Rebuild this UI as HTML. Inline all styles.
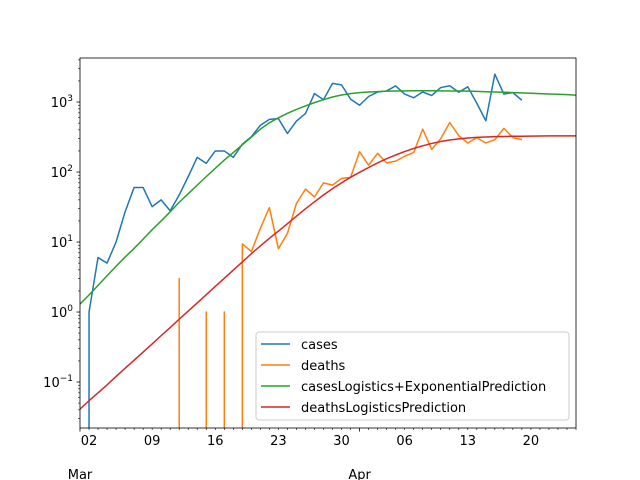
<!DOCTYPE html>
<html><head><meta charset="utf-8"><style>
body{margin:0;background:#fff;}
svg{display:block;font-family:"DejaVu Sans","Liberation Sans",sans-serif;}
</style></head><body>
<svg id="chart" width="640" height="480" viewBox="0 0 640 480" xmlns="http://www.w3.org/2000/svg">
<rect width="640" height="480" fill="#fff"/>
<defs><clipPath id="clip"><rect x="80" y="58" width="496" height="370"/></clipPath></defs>
<g id="series"></g>
<g id="axes"></g>
<g id="legend"></g>
</svg>
<script>
// day index: 1 = Mar 1
const caseDays = [1,2,3,4,5,6,7,8,9,10,11,12,13,14,15,16,17,18,19,20,21,22,23,24,25,26,27,28,29,30,31,32,33,34,35,36,37,38,39,40,41,42,43,44,45,46,47,48,49,50];
const cases = [0,1,6,5,10,27,60,60,32,40,28,47,86,162,133,200,200,162,250,320,465,565,580,355,535,685,1320,1080,1850,1760,1100,900,1200,1390,1440,1700,1300,1150,1390,1240,1610,1710,1380,1650,960,540,2500,1300,1360,1060];
const deaths = [0,0,0,0,0,0,0,0,0,0,0,3,0,0,1,0,1,0,9.4,7.3,15.7,31,8,13.3,35.5,57,44,70,65,81,84,195,125,185,135,143,168,190,410,210,300,510,330,260,310,260,290,420,310,290];
const predDays = [1,2,3,4,5,6,7,8,9,10,11,12,13,14,15,16,17,18,19,20,21,22,23,24,25,26,27,28,29,30,31,32,33,34,35,36,37,38,39,40,41,42,43,44,45,46,47,48,49,50,51,52,53,54,55,56];
const casesPred = [1.3,1.75,2.4,3.3,4.5,6.1,8.1,11,15,20,27,37,49,65,86,113,148,190,245,315,410,505,595,690,785,880,980,1080,1180,1260,1320,1360,1390,1410,1430,1440,1445,1450,1450,1448,1445,1440,1435,1430,1420,1405,1390,1380,1365,1350,1335,1320,1305,1290,1275,1255];
const deathsPred = [0.041,0.054,0.07,0.091,0.12,0.157,0.205,0.268,0.35,0.46,0.6,0.79,1.03,1.35,1.77,2.32,3.03,3.97,5.2,6.8,8.8,11.3,14.3,18.3,23.4,29.8,37.5,47,58,70,84,99,116,135,155,175,196,217,237,256,273,287,298,306,312,317,320,322,324,325,326,327,328,328,329,329];
const xTickDays = [2,9,16,23,30,37,44,51];
const xTickLabels = ["02","09","16","23","30","06","13","20"];
const monthDays = [1,32];
const monthLabels = ["Mar","Apr"];
const yTickExps = [-1,0,1,2,3];

const L=80,R=576,T=58,B=428;
const dayMin=1,dayMax=56;
const logMin=-1.657,logMax=3.629;
function xs(d){return L+(d-dayMin)/(dayMax-dayMin)*(R-L);}
function ys(v){return B-(Math.log10(v)-logMin)/(logMax-logMin)*(B-T);}
const NS="http://www.w3.org/2000/svg";
function mk(tag,attrs,parent){const e=document.createElementNS(NS,tag);for(const k in attrs)e.setAttribute(k,attrs[k]);parent.appendChild(e);return e;}
const sg=document.getElementById('series'),ag=document.getElementById('axes'),lg=document.getElementById('legend');
const BOT=B+50;
function line(days,vals,color,name){
  let d='';
  for(let i=0;i<days.length;i++){
    const x=xs(days[i]);const v=vals[i];
    const prevPos=i>0&&vals[i-1]>0;
    if(v>0){
      const y=ys(v);
      if(i===0)d+='M'+x.toFixed(2)+','+y.toFixed(2);
      else if(prevPos)d+='L'+x.toFixed(2)+','+y.toFixed(2);
      else d+='M'+x.toFixed(2)+','+BOT+'L'+x.toFixed(2)+','+y.toFixed(2);
    }else if(prevPos){
      d+='L'+xs(days[i-1]).toFixed(2)+','+BOT;
    }
  }
  const p=mk('path',{d:d,fill:'none',stroke:color,'stroke-width':1.5,'stroke-linejoin':'round','clip-path':'url(#clip)'},sg);
  
  
}
line(caseDays,cases,'#1f77b4','cases-line');
line(caseDays,deaths,'#ff7f0e','deaths-line');
line(predDays,casesPred,'#2ca02c','cases-prediction-line');
line(predDays,deathsPred,'#d62728','deaths-prediction-line');

const fr=mk('rect',{x:L,y:T,width:R-L,height:B-T,fill:'none',stroke:'#000','stroke-width':0.8},ag);


for(let d=dayMin;d<=dayMax;d++){
  const major=monthDays.includes(d);
  const t=mk('line',{x1:xs(d),x2:xs(d),y1:B,y2:B+(major?3.5:2),stroke:'#000','stroke-width':major?0.8:0.6},ag);
  
  
}
xTickDays.forEach((d,i)=>{const t=mk('text',{x:xs(d),y:B+17,'text-anchor':'middle','font-size':13},ag);t.textContent=xTickLabels[i];
  
  });
monthDays.forEach((d,i)=>{const t=mk('text',{x:xs(d),y:B+51,'text-anchor':'middle','font-size':13},ag);t.textContent=monthLabels[i];
  
  });
for(let e=-2;e<=4;e++){
  for(let m=1;m<10;m++){
    const v=m*Math.pow(10,e);const lv=Math.log10(v);if(lv<logMin||lv>logMax)continue;
    const y=ys(v);
    const t=mk('line',{x1:L,x2:L-(m===1?3.5:2),y1:y,y2:y,stroke:'#000','stroke-width':m===1?0.8:0.6},ag);
    
    
  }
}
yTickExps.forEach(e=>{const y=ys(Math.pow(10,e));
  const t=mk('text',{x:L-7,y:y+5,'text-anchor':'end','font-size':13},ag);
  
  
  const b=document.createElementNS(NS,'tspan');b.textContent='10';t.appendChild(b);
  const s=document.createElementNS(NS,'tspan');s.setAttribute('dy','-6');s.setAttribute('font-size','9');s.textContent=(e<0?'\u2212'+(-e):String(e));t.appendChild(s);
});
const lb=mk('rect',{x:256,y:332,width:313,height:88,rx:3,fill:'#fff','fill-opacity':0.8,stroke:'#ccc','stroke-width':1},lg);


const legNames=['cases','deaths','casesLogistics+ExponentialPrediction','deathsLogisticsPrediction'];
const legColors=['#1f77b4','#ff7f0e','#2ca02c','#d62728'];
legNames.forEach((n,i)=>{const y=344+i*21;
  const l=mk('line',{x1:261,x2:290,y1:y,y2:y,stroke:legColors[i],'stroke-width':1.5},lg);
  
  
  const t=mk('text',{x:301,y:y+5,'font-size':13},lg);t.textContent=n;
  
  
});
</script>
</body></html>
